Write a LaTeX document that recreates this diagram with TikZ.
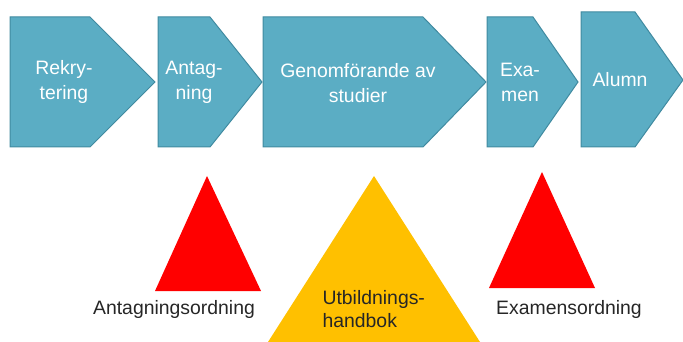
\documentclass[tikz,border=0pt]{standalone}
\usepackage{fontspec}
\setmainfont{Liberation Sans}
\definecolor{stegfill}{RGB}{91,173,196}
\definecolor{stegline}{RGB}{64,138,160}
\definecolor{gul}{RGB}{255,192,0}
\tikzset{
	chevron/.style={fill=stegfill, draw=stegline, line width=1pt, line join=miter},
	steptext/.style={text=white, align=center, font=\fontsize{19.4}{25}\selectfont},
	tri/.style={draw=none},
	doctext/.style={text=black!85, align=left, font=\fontsize{19.4}{23}\selectfont},
}
\begin{document}
\begin{tikzpicture}[
			x=1pt, y=-1pt,
		]
		\useasboundingbox (0,0) rectangle (683,342);
		\clip (0,0) rectangle (683,342);

		% processens steg
		\draw[chevron] (10,17) -- (90,17) -- (155,82) -- (90,147) -- (10,147) -- cycle;
		\draw[chevron] (158,17) -- (210,17) -- (262,82) -- (210,147) -- (158,147) -- cycle;
		\draw[chevron] (263,17) -- (423,17) -- (486,82) -- (423,147) -- (263,147) -- cycle;
		\draw[chevron] (487,17) -- (533,17) -- (578,82) -- (533,147) -- (487,147) -- cycle;
		\draw[chevron] (581,12) -- (635,12) -- (683,80) -- (635,147) -- (581,147) -- cycle;

		\node[steptext] (rekr) at (64,82) {Rekry-\\tering};
		\node[steptext] (antag) at (194,82) {Antag-\\ning};
		\node[steptext] (genom) at (358,83) {Genomförande av\\studier};
		\node[steptext] (exam) at (520,82) {Exa-\\men};
		\node[steptext] (alumn) at (620,80) {Alumn};

		% styrdokument
		\fill[red] (207,176) -- (261,291) -- (155,291) -- cycle;
		\fill[gul] (374,176) -- (480,342) -- (268,342) -- cycle;
		\fill[red] (542,172) -- (595,288) -- (489,288) -- cycle;

		\node[doctext] (antagord) at (174,309) {Antagningsordning};
		\node[doctext, anchor=west] (handbok) at (319,309) {Utbildnings-\\handbok};
		\node[doctext] (examord) at (569,309) {Examensordning};
	\end{tikzpicture}
\end{document}
